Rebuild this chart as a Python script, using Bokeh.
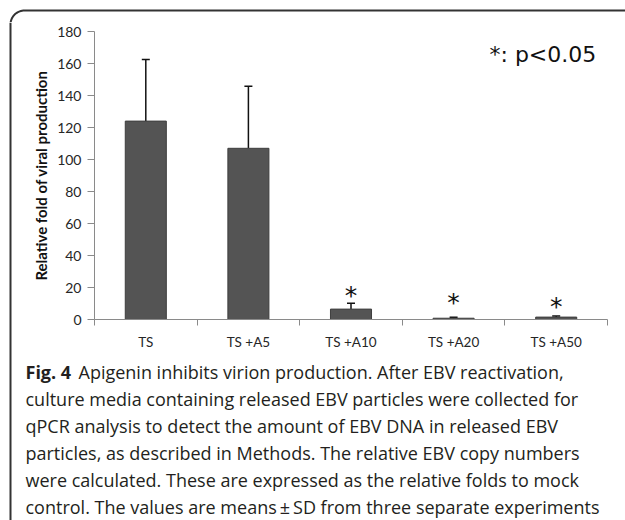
from bokeh.plotting import figure
from bokeh.models import (ColumnDataSource, Range1d, FixedTicker, Whisker, TeeHead, Label)
from bokeh.layouts import column, row
from bokeh.core.properties import value
from bokeh.embed import file_html
from bokeh.resources import INLINE
import math

# ---- data ----
categories = ["TS", "TS +A5", "TS +A10", "TS +A20", "TS +A50"]
means = [124, 107, 6.5, 0.8, 1.5]
sds = [38.5, 38.8, 3.6, 0.6, 0.7]
significant = [False, False, True, True, True]
star_levels = [None, None, 15.0, 10.5, 8.2]
y_ticks = [0, 20, 40, 60, 80, 100, 120, 140, 160, 180]
note_text = "*: p<0.05"
caption_bold = "Fig. 4"
caption_lines = [
    "Apigenin inhibits virion production. After EBV reactivation,",
    "culture media containing released EBV particles were collected for",
    "qPCR analysis to detect the amount of EBV DNA in released EBV",
    "particles, as described in Methods. The relative EBV copy numbers",
    "were calculated. These are expressed as the relative folds to mock",
    "control. The values are means\u2009\u00b1\u2009SD from three separate experiments",
]

FRAME_COLOR = "#333333"
TEXT_COLOR = "#231f20"


def blank_fig(w, h, xr, yr):
    f = figure(width=w, height=h, output_backend="svg", toolbar_location=None,
               x_range=Range1d(*xr), y_range=Range1d(*yr),
               x_axis_location=None, y_axis_location=None,
               min_border=0, min_border_left=0, min_border_right=0,
               min_border_top=0, min_border_bottom=0)
    f.outline_line_color = None
    f.xgrid.visible = False
    f.ygrid.visible = False
    f.background_fill_color = "white"
    f.border_fill_color = "white"
    f.frame_align = False
    return f


TOTAL_W, TOTAL_H = 625, 520
TOP_H, LEFT_W = 22, 18
CHART_H = 336
CAP_H = TOTAL_H - TOP_H - CHART_H
RIGHT_W = TOTAL_W - LEFT_W

# ---- top strip: rounded corner and top border line ----
top = blank_fig(TOTAL_W, TOP_H, (0, TOTAL_W), (TOP_H, 0))
r, lx, ty = 14, 10, 10
arc_x = [lx + r - r * math.cos(math.radians(a)) for a in range(0, 91, 5)]
arc_y = [ty + r - r * math.sin(math.radians(a)) for a in range(0, 91, 5)]
top.line(x=[lx, lx] + arc_x + [TOTAL_W], y=[TOP_H + 2, ty + r] + arc_y + [ty],
         line_color=FRAME_COLOR, line_width=2)

# ---- left strip: left border line ----
left = blank_fig(LEFT_W, TOTAL_H - TOP_H, (0, LEFT_W), (TOTAL_H - TOP_H, 0))
left.line(x=[lx, lx], y=[0, TOTAL_H - TOP_H], line_color=FRAME_COLOR, line_width=2)

# ---- chart ----
centers = [i + 0.5 for i in range(len(categories))]
src = ColumnDataSource(dict(x=centers, top=means,
                            upper=[m + s for m, s in zip(means, sds)]))
star_src = ColumnDataSource(dict(
    x=[c for c, s in zip(centers, significant) if s],
    y=[v for v, s in zip(star_levels, significant) if s],
    t=["*" for s in significant if s]))

p = figure(width=RIGHT_W, height=CHART_H, output_backend="svg", toolbar_location=None,
           x_range=Range1d(0, len(categories)), y_range=Range1d(0, 180),
           min_border_left=76, min_border_right=18, min_border_top=9,
           min_border_bottom=39)
p.frame_align = False
p.outline_line_color = None
p.xgrid.visible = False
p.ygrid.visible = False
p.background_fill_color = "white"
p.border_fill_color = "white"

p.vbar(x="x", top="top", width=0.4, bottom=0, source=src,
       fill_color="#545454", line_color="#3e3e3e", line_width=1)

p.add_layout(Whisker(base="x", lower="top", upper="upper", source=src,
                     line_color="#111111", line_width=1.5,
                     upper_head=TeeHead(size=8, line_color="#111111", line_width=1.5),
                     lower_head=None))

p.text(x="x", y="y", text="t", source=star_src, text_align="center",
       text_baseline="middle", text_font=value("DejaVu Sans"),
       text_font_size="25px", text_color="#111111")

gray = "#8a8a8a"
ya = p.yaxis[0]
ya.ticker = FixedTicker(ticks=y_ticks, minor_ticks=[])
ya.axis_line_color = gray
ya.major_tick_line_color = gray
ya.major_tick_out = 7
ya.major_tick_in = 0
ya.minor_tick_line_color = None
ya.major_label_text_font = "Lato"
ya.major_label_text_font_size = "14px"
ya.major_label_text_color = "#262626"
ya.major_label_standoff = 6
ya.axis_label = "Relative fold of viral production"
ya.axis_label_text_font = "Lato"
ya.axis_label_text_font_style = "bold"
ya.axis_label_text_font_size = "15px"
ya.axis_label_text_color = "#111111"
ya.axis_label_standoff = 4

xa = p.xaxis[0]
xa.ticker = FixedTicker(ticks=centers, minor_ticks=list(range(len(categories) + 1)))
xa.major_label_overrides = {c: lab for c, lab in zip(centers, categories)}
xa.axis_line_color = gray
xa.major_tick_line_color = None
xa.major_tick_out = 0
xa.major_tick_in = 0
xa.minor_tick_line_color = gray
xa.minor_tick_out = 6
xa.minor_tick_in = 0
xa.major_label_text_font = "Lato"
xa.major_label_text_font_size = "13.5px"
xa.major_label_text_color = "#262626"
xa.major_label_standoff = 8

p.add_layout(Label(x=395, y=265, x_units="screen", y_units="screen", text=note_text,
                   text_font="DejaVu Sans", text_font_size="22px",
                   text_color="#111111", text_baseline="alphabetic"))

# ---- caption ----
cap = blank_fig(RIGHT_W, CAP_H, (0, RIGHT_W), (CAP_H, 0))
cap_x, cap_y0, gap, bold_w = 7, 13, 27, 53
cap_src = ColumnDataSource(dict(
    x=[cap_x + (bold_w if i == 0 else 0) for i in range(len(caption_lines))],
    y=[cap_y0 + i * gap for i in range(len(caption_lines))],
    t=caption_lines))
cap.text(x="x", y="y", text="t", source=cap_src, text_font=value("Open Sans"),
         text_font_size="18px", text_color=TEXT_COLOR, text_baseline="alphabetic")
cap.text(x=[cap_x], y=[cap_y0], text=[caption_bold], text_font=value("Open Sans"),
         text_font_style="bold", text_font_size="18px", text_color=TEXT_COLOR,
         text_baseline="alphabetic")

layout = column(top, row(left, column(p, cap)))
open("out.html", "w").write(file_html(layout, INLINE))
